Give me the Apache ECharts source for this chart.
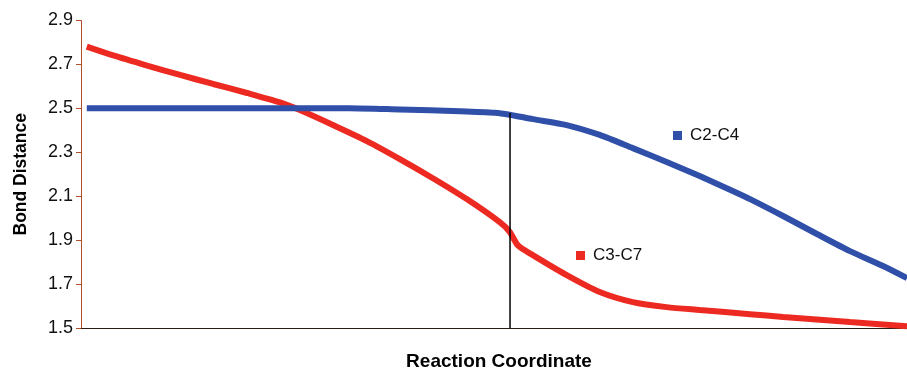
<!DOCTYPE html>
<html>
<head>
<meta charset="utf-8">
<script src="https://cdn.jsdelivr.net/npm/echarts@6/dist/echarts.min.js"></script>
<style>
html,body{margin:0;padding:0;background:#fff;}
#chart{width:907px;height:371px;}
</style>
</head>
<body>
<div id="chart"></div>
<script>
// Reaction coordinate (arbitrary 0..100) and bond distances
var c3c7X = [0.7, 3.9, 8.0, 12.0, 16.0, 20.1, 24.1, 26.5, 30.5, 34.6, 38.6, 42.6, 46.7, 50.7, 51.9, 52.9, 54.7, 58.8, 62.8, 66.8, 70.9, 74.9, 81.0, 85.0, 93.1, 100];
var c3c7Y = [2.781, 2.741, 2.695, 2.652, 2.611, 2.570, 2.527, 2.492, 2.424, 2.351, 2.269, 2.182, 2.087, 1.982, 1.938, 1.876, 1.832, 1.741, 1.664, 1.618, 1.595, 1.582, 1.563, 1.550, 1.527, 1.508];
var c2c4X = [0.7, 20, 32.5, 38.6, 45.9, 50.1, 51.9, 54.7, 58.8, 62.8, 66.8, 70.9, 74.9, 78.9, 81.0, 85.0, 89.1, 93.1, 97.1, 100];
var c2c4Y = [2.501, 2.501, 2.501, 2.495, 2.487, 2.480, 2.471, 2.451, 2.424, 2.379, 2.319, 2.256, 2.192, 2.124, 2.087, 2.010, 1.928, 1.850, 1.782, 1.727];
var transitionX = [51.94, 51.94];
var transitionY = [1.5, 2.479];
var yTicks = ['1.5', '1.7', '1.9', '2.1', '2.3', '2.5', '2.7', '2.9'];
var seriesNames = ['C2-C4', 'C3-C7'];

var Y0 = 1.5;
function toY(v) { return (v - Y0) * 10; }
function pairs(xs, ys) { return xs.map(function (x, i) { return [x, toY(ys[i])]; }); }

var chart = echarts.init(document.getElementById('chart'), null, {renderer: 'canvas'});
var font = 'Arial, "Liberation Sans", sans-serif';
chart.setOption({
  animation: false,
  backgroundColor: '#ffffff',
  grid: {left: 81, right: 0, top: 20.5, bottom: 43, containLabel: false, outerBoundsMode: 'none'},
  legend: [
    {data: [seriesNames[0]], left: 673, top: 127, padding: 0, itemWidth: 9, itemHeight: 9, icon: 'rect',
     textStyle: {fontFamily: font, fontSize: 17, color: '#111', padding: [0, 0, 0, 3]}},
    {data: [seriesNames[1]], left: 576, top: 247, padding: 0, itemWidth: 9, itemHeight: 9, icon: 'rect',
     textStyle: {fontFamily: font, fontSize: 17, color: '#111', padding: [0, 0, 0, 3]}}
  ],
  xAxis: {
    type: 'value', min: 0, max: 100,
    name: 'Reaction Coordinate', nameLocation: 'middle', nameGap: 24,
    nameTextStyle: {fontFamily: font, fontSize: 19, fontWeight: 'bold', color: '#000', padding: [0, 0, 0, 10]},
    axisLine: {show: true, lineStyle: {color: '#2a1a14', width: 1}},
    axisTick: {show: false}, axisLabel: {show: false}, splitLine: {show: false}
  },
  yAxis: {
    type: 'value', min: 0, max: 14, interval: 2,
    name: 'Bond Distance', nameLocation: 'middle', nameGap: 51, nameRotate: 90,
    nameTextStyle: {fontFamily: font, fontSize: 17.5, fontWeight: 'bold', color: '#000'},
    axisLine: {show: true, lineStyle: {color: '#b0502a', width: 1}},
    axisTick: {show: true, inside: false, length: 5, lineStyle: {color: '#b0502a'}},
    axisLabel: {
      margin: 8, fontFamily: font, fontSize: 18, color: '#111',
      formatter: function (v) { return yTicks[Math.round(v / 2)]; }
    },
    splitLine: {show: false}
  },
  series: [
    {name: seriesNames[0], type: 'line', data: pairs(c2c4X, c2c4Y), smooth: 0.25, showSymbol: false,
     itemStyle: {color: '#2f4fa8'}, lineStyle: {color: '#2f4fa8', width: 6}, z: 3},
    {name: seriesNames[1], type: 'line', data: pairs(c3c7X, c3c7Y), smooth: 0.25, showSymbol: false,
     itemStyle: {color: '#ec2a22'}, lineStyle: {color: '#ec2a22', width: 6}, z: 2},
    {name: 'marker', type: 'line', data: pairs(transitionX, transitionY), showSymbol: false,
     lineStyle: {color: '#000', width: 1.5}, z: 4, silent: true}
  ]
});
</script>
</body>
</html>
